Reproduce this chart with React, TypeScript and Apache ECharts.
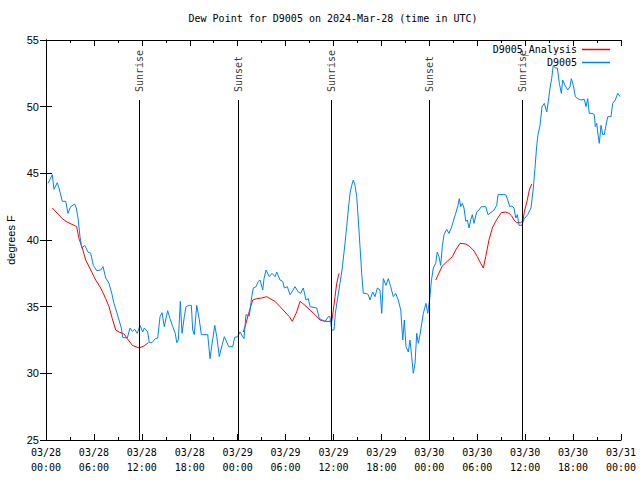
import React, { useEffect, useRef } from "react";
import * as echarts from "echarts";

const TITLE = "Dew Point for D9005 on 2024-Mar-28 (time in UTC)";
const Y_NAME = "degrees F";
const SERIES_NAMES = ["D9005_Analysis", "D9005"];
const Y_MIN = 25;
const Y_MAX = 55;
const Y_STEP = 5;
const X_MIN = 0; // hours after 03/28 00:00 UTC
const X_MAX = 72;
const X_STEP = 6;
const START_DAY = 28;

// D9005 observations (hours after 03/28 00:00 UTC, degrees F)
const blueHours = [
  0.25, 0.79, 1.0, 1.41, 1.63, 2.04, 2.47, 2.75, 3.09, 3.59, 3.79, 4.01, 4.26, 4.47, 4.85, 5.26, 5.6, 5.92,
  6.35, 6.85, 7.14, 7.48, 7.89, 8.23, 8.51, 8.85, 9.14, 9.43, 9.6, 10.18, 10.52, 10.81, 11.11, 11.43, 11.77,
  12.11, 12.31, 12.73, 12.94, 13.27, 13.69, 13.99, 14.28, 14.53, 14.81, 15.24, 15.53, 15.87, 16.19, 16.37,
  16.57, 16.82, 17.03, 17.32, 17.53, 17.94, 18.2, 18.37, 18.57, 18.87, 19.2, 19.45, 20.25, 20.54, 20.79,
  21.13, 21.38, 21.7, 22.04, 22.33, 22.88, 23.38, 23.63, 24.0, 24.29, 24.79, 25.04, 25.46, 25.76, 25.96,
  26.3, 26.58, 26.8, 27.14, 27.3, 27.55, 27.96, 28.3, 28.68, 28.89, 29.3, 29.64, 29.84, 30.22, 30.55, 30.8,
  31.18, 31.59, 31.89, 32.22, 32.56, 32.85, 33.06, 33.9, 34.22, 34.94, 35.35, 35.56, 35.78, 36.06, 36.23,
  36.48, 36.81, 37.1, 37.44, 37.65, 37.85, 38.07, 38.28, 38.48, 38.69, 38.91, 39.11, 39.32, 39.53, 39.73,
  40.07, 40.36, 40.57, 40.91, 41.2, 41.49, 41.82, 42.04, 42.24, 42.57, 42.86, 43.16, 43.49, 43.79, 44.11,
  44.42, 44.67, 44.87, 45.08, 45.37, 45.58, 45.79, 45.99, 46.21, 46.42, 46.62, 46.83, 47.05, 47.25, 47.58,
  47.8, 48.05, 48.25, 48.5, 48.8, 49.0, 49.21, 49.42, 49.62, 49.84, 50.17, 50.46, 50.75, 51.0, 51.3, 51.59,
  51.75, 51.93, 52.13, 52.34, 52.56, 52.76, 52.97, 53.18, 53.38, 53.59, 53.93, 54.22, 54.51, 55.06, 55.35,
  55.69, 56.1, 56.44, 56.6, 57.56, 57.77, 58.07, 58.32, 58.6, 58.82, 59.02, 59.23, 59.57, 59.89, 60.32,
  60.73, 61.02, 61.23, 61.45, 61.61, 61.86, 62.11, 62.4, 62.7, 62.9, 63.11, 63.32, 63.52, 63.77, 64.03,
  64.28, 64.53, 64.7, 64.99, 65.33, 65.62, 65.78, 66.03, 66.28, 66.58, 66.99, 67.41, 67.62, 67.83, 68.03,
  68.37, 68.66, 68.78, 68.96, 69.12, 69.28, 69.5, 69.71, 69.91, 70.12, 70.34, 70.75, 70.96, 71.29, 71.59,
  71.88,
];
const blueValues = [
  44.25, 44.9, 43.8, 44.3, 43.9, 42.9, 42.9, 42.0, 42.5, 42.7, 42.4, 41.65, 40.25, 39.4, 39.6, 39.1, 39.0,
  38.1, 37.7, 37.75, 38.0, 37.15, 36.75, 36.0, 35.25, 34.6, 34.0, 33.4, 32.7, 32.65, 33.4, 33.15, 33.3, 33.0,
  33.6, 33.1, 33.4, 33.1, 32.3, 32.3, 32.6, 32.65, 34.25, 34.55, 33.5, 34.7, 34.1, 33.5, 33.0, 32.3, 32.5,
  35.4, 33.0, 34.25, 35.0, 35.1, 35.1, 33.25, 32.9, 35.1, 34.0, 32.9, 32.9, 31.1, 32.2, 33.6, 32.75, 31.25,
  32.1, 32.75, 32.0, 32.0, 32.7, 32.75, 33.1, 32.6, 34.4, 34.3, 35.75, 36.4, 36.5, 36.9, 37.0, 36.25, 37.1,
  37.75, 37.25, 37.5, 37.25, 37.6, 37.0, 36.9, 36.4, 36.5, 35.9, 36.1, 36.5, 36.1, 36.0, 36.4, 35.5, 35.6,
  35.0, 34.9, 34.1, 33.9, 34.25, 34.25, 33.25, 33.25, 34.5, 35.5, 36.75, 37.9, 39.75, 41.0, 42.25, 43.5,
  44.1, 44.5, 44.1, 43.25, 41.5, 39.5, 37.5, 36.0, 36.0, 35.9, 35.5, 36.1, 35.75, 36.4, 36.25, 34.5, 37.1,
  36.6, 37.1, 36.5, 35.75, 36.0, 35.5, 34.75, 32.5, 34.0, 32.0, 31.6, 32.5, 31.25, 30.0, 30.75, 33.0, 32.25,
  32.9, 33.75, 34.5, 35.25, 34.5, 35.6, 36.9, 37.9, 38.25, 39.1, 38.75, 38.1, 39.5, 40.4, 40.8, 40.5, 40.9,
  41.4, 42.0, 42.6, 43.1, 42.5, 42.75, 42.4, 41.4, 41.5, 40.9, 41.5, 41.9, 41.25, 42.1, 42.25, 42.5, 42.5,
  41.9, 42.05, 42.25, 42.6, 43.4, 43.4, 43.1, 42.5, 42.55, 42.4, 41.65, 41.9, 41.1, 41.1, 41.6, 41.9, 42.4,
  43.9, 45.4, 47.1, 47.9, 48.6, 50.0, 50.25, 49.6, 50.4, 51.4, 52.1, 53.1, 52.9, 52.9, 51.75, 51.0, 52.0,
  51.6, 51.25, 51.5, 52.1, 51.6, 50.75, 50.6, 50.5, 50.55, 50.0, 50.6, 49.5, 49.5, 49.4, 48.5, 48.75, 47.9,
  47.25, 48.6, 47.9, 47.9, 48.6, 49.25, 49.25, 50.25, 50.5, 51.0, 50.75,
];

// D9005_Analysis (null = no analysis, gap in line)
const redHours = [
  0.79, 2.04, 2.63, 3.51, 3.84, 4.13, 4.55, 4.97, 5.6, 6.22, 6.85, 7.48, 7.89, 8.3, 8.73, 9.14, 9.77, 10.18,
  10.81, 11.65, 12.27, 12.81, 18.0, 24.71, 25.04, 25.33, 25.63, 25.88, 26.38, 27.01, 27.64, 28.05, 28.68,
  29.3, 29.93, 30.47, 30.84, 31.39, 31.81, 32.43, 33.06, 33.68, 34.31, 34.94, 35.78, 35.98, 36.19, 36.4,
  36.69, 42.0, 48.8, 49.62, 50.25, 50.88, 51.3, 51.84, 52.56, 52.97, 53.51, 54.01, 54.43, 54.76, 55.06,
  55.47, 55.89, 56.31, 56.73, 57.02, 57.56, 57.98, 58.32, 58.6, 58.94, 59.44, 59.73, 59.89, 60.23, 60.52,
  60.82,
];
const redValues: (number | null)[] = [
  42.4, 41.6, 41.35, 41.1, 41.0, 40.1, 39.4, 38.5, 37.75, 37.0, 36.4, 35.6, 35.0, 34.1, 33.25, 33.1, 32.95,
  32.6, 32.1, 31.9, 32.05, 32.3, null, 33.1, 33.75, 34.4, 35.0, 35.5, 35.6, 35.65, 35.75, 35.6, 35.4, 35.0,
  34.6, 34.25, 33.9, 34.6, 35.4, 35.1, 34.75, 34.4, 34.0, 33.9, 33.9, 34.75, 35.75, 36.75, 37.5, null, 37.0,
  38.05, 38.4, 38.75, 39.25, 39.75, 39.7, 39.55, 39.25, 38.75, 38.25, 37.9, 38.75, 40.0, 40.9, 41.4, 41.8,
  42.05, 42.1, 42.0, 41.8, 41.5, 41.3, 41.3, 41.45, 42.1, 42.9, 43.75, 44.2,
];

// Sun events (hours after 03/28 00:00 UTC)
const sunHours = [11.68, 24.07, 35.72, 48.0, 59.65];
const sunLabels = ["Sunrise", "Sunset", "Sunrise", "Sunset", "Sunrise"];
const SUN_LINE_TOP = 50.5;
const SUN_LABEL_BASE = 51.1;

const MONO = "DejaVu Sans Mono";
const SANS = "Liberation Sans";

function pad(n: number) {
  return n < 10 ? "0" + n : "" + n;
}

export default function App() {
  const ref = useRef<HTMLDivElement>(null);
  useEffect(() => {
    if (!ref.current) return;
    const chart = echarts.init(ref.current, null, { renderer: "svg" });
    const xFmt = (v: number) => {
      const day = START_DAY + Math.floor(v / 24);
      const hr = Math.round(v % 24);
      return "03/" + pad(day) + "\n" + pad(hr) + ":00";
    };
    const tickCommon = {
      axisLine: { show: true, lineStyle: { color: "#000", width: 1 } },
      axisTick: { show: true, inside: true, length: 6, lineStyle: { color: "#000", width: 1 } },
      splitLine: { show: false },
    };
    const option: any = {
      animation: false,
      backgroundColor: "#fff",
      title: {
        text: TITLE,
        left: 333,
        top: 13,
        textAlign: "center",
        padding: 0,
        textStyle: { fontFamily: MONO, fontSize: 10, fontWeight: "normal", color: "#000" },
      },
      legend: {
        data: SERIES_NAMES,
        orient: "vertical",
        right: 30,
        top: 43,
        align: "right",
        padding: 0,
        itemGap: 0,
        itemWidth: 28,
        itemHeight: 1.5,
        icon: "rect",
        textStyle: { fontFamily: MONO, fontSize: 10, color: "#000", lineHeight: 13 },
      },
      grid: {
        left: 46,
        right: 19,
        top: 40,
        bottom: 40,
        containLabel: false,
        outerBoundsMode: "none",
      },
      xAxis: [
        {
          type: "value",
          min: X_MIN,
          max: X_MAX,
          interval: X_STEP,
          position: "bottom",
          ...tickCommon,
          minorTick: { show: true, splitNumber: 2, length: 3, lineStyle: { color: "#000" } },
          axisLabel: {
            formatter: xFmt,
            fontFamily: MONO,
            fontSize: 10,
            color: "#000",
            lineHeight: 15,
            margin: 5,
            hideOverlap: false,
          },
        },
        {
          type: "value",
          min: X_MIN,
          max: X_MAX,
          interval: X_STEP,
          position: "top",
          ...tickCommon,
          minorTick: { show: true, splitNumber: 2, length: 3, lineStyle: { color: "#000" } },
          axisLabel: { show: false },
        },
      ],
      yAxis: [
        {
          type: "value",
          min: Y_MIN,
          max: Y_MAX,
          interval: Y_STEP,
          position: "left",
          ...tickCommon,
          name: Y_NAME,
          nameLocation: "middle",
          nameRotate: 90,
          nameGap: 30,
          nameMoveOverlap: false,
          nameTextStyle: { fontFamily: SANS, fontSize: 11, color: "#000" },
          axisLabel: { fontFamily: SANS, fontSize: 11, color: "#000", margin: 7 },
        },
        {
          type: "value",
          min: Y_MIN,
          max: Y_MAX,
          interval: Y_STEP,
          position: "right",
          ...tickCommon,
          axisLabel: { show: false },
        },
      ],
      series: [
        {
          name: SERIES_NAMES[0],
          type: "line",
          data: redHours.map((h, i) => [h, redValues[i] === null ? "-" : redValues[i]]),
          showSymbol: false,
          symbol: "none",
          connectNulls: false,
          color: "#ff0000",
          lineStyle: { color: "#ff0000", width: 1 },
          z: 3,
        },
        {
          name: SERIES_NAMES[1],
          type: "line",
          data: blueHours.map((h, i) => [h, blueValues[i]]),
          showSymbol: false,
          symbol: "none",
          color: "#0080ff",
          lineStyle: { color: "#0080ff", width: 1 },
          z: 4,
          markLine: {
            silent: true,
            symbol: ["none", "none"],
            label: { show: false },
            lineStyle: { color: "#000", width: 1, type: "solid" },
            data: sunHours.map((h) => [
              { coord: [h, Y_MIN] },
              { coord: [h, SUN_LINE_TOP] },
            ]),
          },
        },
        {
          name: "sun",
          type: "scatter",
          silent: true,
          symbolSize: 0,
          data: sunHours.map((h) => [h, SUN_LABEL_BASE]),
          label: {
            show: true,
            position: "inside",
            rotate: 90,
            align: "left",
            verticalAlign: "middle",
            formatter: (p: any) => sunLabels[p.dataIndex],
            fontFamily: MONO,
            fontSize: 10,
            color: "#000",
          },
          z: 5,
        },
      ],
    };
    chart.setOption(option);
    return () => chart.dispose();
  }, []);
  return (
    <div
      ref={ref}
      style={{ position: "absolute", left: 0, top: 0, width: 640, height: 480 }}
    />
  );
}
